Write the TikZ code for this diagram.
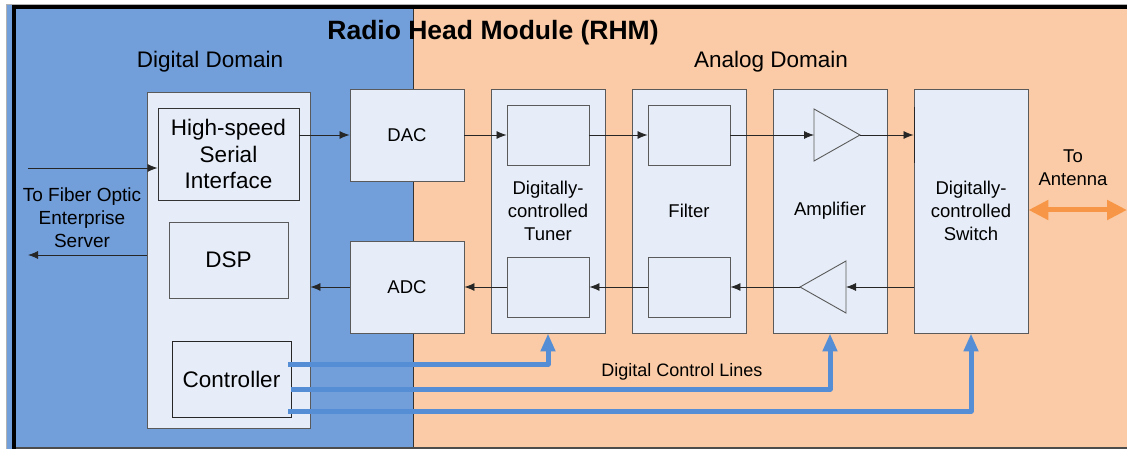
\documentclass[tikz,border=0pt]{standalone}
\usepackage{fontspec}
\setmainfont{Liberation Sans}
\usetikzlibrary{arrows.meta,calc}
\definecolor{bgblue}{RGB}{114,158,218}
\definecolor{bgorange}{RGB}{250,203,166}
\definecolor{boxfill}{RGB}{230,237,248}
\definecolor{boxline}{RGB}{90,90,90}
\definecolor{ctlblue}{RGB}{85,142,213}
\definecolor{antorange}{RGB}{247,150,70}
\begin{document}
\begin{tikzpicture}[x=1pt,y=-1pt,
  blk/.style={draw=boxline,fill=boxfill,line width=0.9pt,inner sep=0pt,align=center},
  bigtxt/.style={font=\fontsize{22.5}{26.5}\selectfont},
  smalltxt/.style={font=\fontsize{18.5}{23}\selectfont},
  sig/.style={draw=black!85,line width=0.8pt,-{Latex[length=10pt,width=8pt]}},
  ctl/.style={draw=ctlblue,line width=5pt,line join=round,-{Triangle[length=18pt,width=14pt]}},
  ant/.style={draw=antorange,line width=5pt,{Triangle[length=20pt,width=19pt]}-{Triangle[length=20pt,width=19pt]}},
  lbl/.style={inner sep=0pt,align=center}]
\useasboundingbox (0,0) rectangle (1127,449);
% backgrounds
\fill[bgblue] (7,4) rectangle (413,449);
\fill[bgorange] (413,4) rectangle (1127,449);
\draw[black!80,line width=0.8pt] (413,9) -- (413,447);
\draw[gray!60,line width=1pt] (6.5,4.5) -- (1127,4.5);
\draw[gray!60,line width=1pt] (6.5,4.5) -- (6.5,449);
\draw[black,line width=4pt] (12,7) -- (1127,7);
\draw[black,line width=4pt] (14,5) -- (14,449);
\draw[black!70,line width=2pt] (16,448) -- (1127,448);
% headings
\node[lbl,font=\fontsize{26.5}{29}\selectfont\bfseries] (title) at (493,33) {Radio Head Module (RHM)};
\node[lbl,font=\fontsize{22.5}{26}\selectfont] (dd) at (210,62) {Digital Domain};
\node[lbl,font=\fontsize{22.5}{26}\selectfont] (ad) at (771,62) {Analog Domain};
% digital side
\node[blk,minimum width=163pt,minimum height=336pt] (digi) at (228.5,260) {};
\node[blk,bigtxt,draw=black!80,minimum width=141pt,minimum height=92pt] (hsi) at (228.5,154) {High-speed\\Serial\\Interface};
\node[blk,bigtxt,minimum width=119pt,minimum height=76pt] (dsp) at (228.5,260) {DSP};
\node[blk,bigtxt,draw=black!85,minimum width=119pt,minimum height=76pt] (ctrl) at (231.5,379) {Controller};
% converters
\node[blk,smalltxt,minimum width=114pt,minimum height=92pt] (dac) at (407,135) {DAC};
\node[blk,smalltxt,minimum width=114pt,minimum height=92pt] (adc) at (407,287) {ADC};
% analog chain
\node[blk,smalltxt,minimum width=114pt,minimum height=244pt] (tuner) at (548,211) {Digitally-\\controlled\\Tuner};
\node[blk,minimum width=82pt,minimum height=60pt] (tin1) at (548,135) {};
\node[blk,minimum width=82pt,minimum height=60pt] (tin2) at (548,287) {};
\node[blk,smalltxt,minimum width=114pt,minimum height=244pt] (filt) at (689,211) {Filter};
\node[blk,minimum width=82pt,minimum height=60pt] (fin1) at (689,135) {};
\node[blk,minimum width=82pt,minimum height=60pt] (fin2) at (689,287) {};
\node[blk,smalltxt,minimum width=114pt,minimum height=244pt] (amp) at (830,211) {Amplifier};
\node[blk,smalltxt,minimum width=114pt,minimum height=244pt] (sw) at (971,211) {Digitally-\\controlled\\Switch};
\draw[black!85,line width=0.9pt] (914,107) -- (914,163);
% amplifier triangles
\coordinate (t1l) at (814,135);
\coordinate (t1a) at (860,135);
\coordinate (t2a) at (800,287);
\coordinate (t2r) at (846,287);
\draw[boxline,line width=0.9pt,fill=boxfill] (814,109) -- (860,135) -- (814,161) -- cycle;
\draw[boxline,line width=0.9pt,fill=boxfill] (846,261) -- (800,287) -- (846,313) -- cycle;
% fiber side
\coordinate (fin) at (28,168);
\coordinate (fout) at (28,255);
\node[lbl,font=\fontsize{19}{23}\selectfont] (fiber) at (82,218) {To Fiber Optic\\Enterprise\\Server};
\draw[sig] (fin) -- (fin -| hsi.west);
\draw[sig] (fout -| digi.west) -- (fout);
% forward path
\draw[sig] (dac.west -| hsi.east) -- (dac.west);
\draw[sig] (dac.east) -- (tin1.west);
\draw[sig] (tin1.east) -- (fin1.west);
\draw[sig] (fin1.east) -- (t1l);
\draw[sig] (t1a) -- (t1a -| sw.west);
% return path
\draw[sig] (t2r -| sw.west) -- (t2r);
\draw[sig] (t2a) -- (fin2.east);
\draw[sig] (fin2.west) -- (tin2.east);
\draw[sig] (tin2.west) -- (adc.east);
\draw[sig] (adc.west) -- (adc.west -| digi.east);
% antenna
\node[lbl,smalltxt] (antl) at (1073,168) {To\\Antenna};
\coordinate (antend) at (1127,210);
\draw[ant] (sw.east |- antend) -- (antend);
% control lines
\coordinate (c1) at ($(ctrl.east)+(-3,-15)$);
\coordinate (c2) at ($(ctrl.east)+(0,10)$);
\coordinate (c3) at ($(ctrl.east)+(-3,32)$);
\draw[ctl] (c1) -| (tuner.south);
\draw[ctl] (c2) -| (amp.south);
\draw[ctl] (c3) -| (sw.south);
\node[lbl,font=\fontsize{18}{22}\selectfont] (dcl) at (682,372) {Digital Control Lines};
\end{tikzpicture}
\end{document}
